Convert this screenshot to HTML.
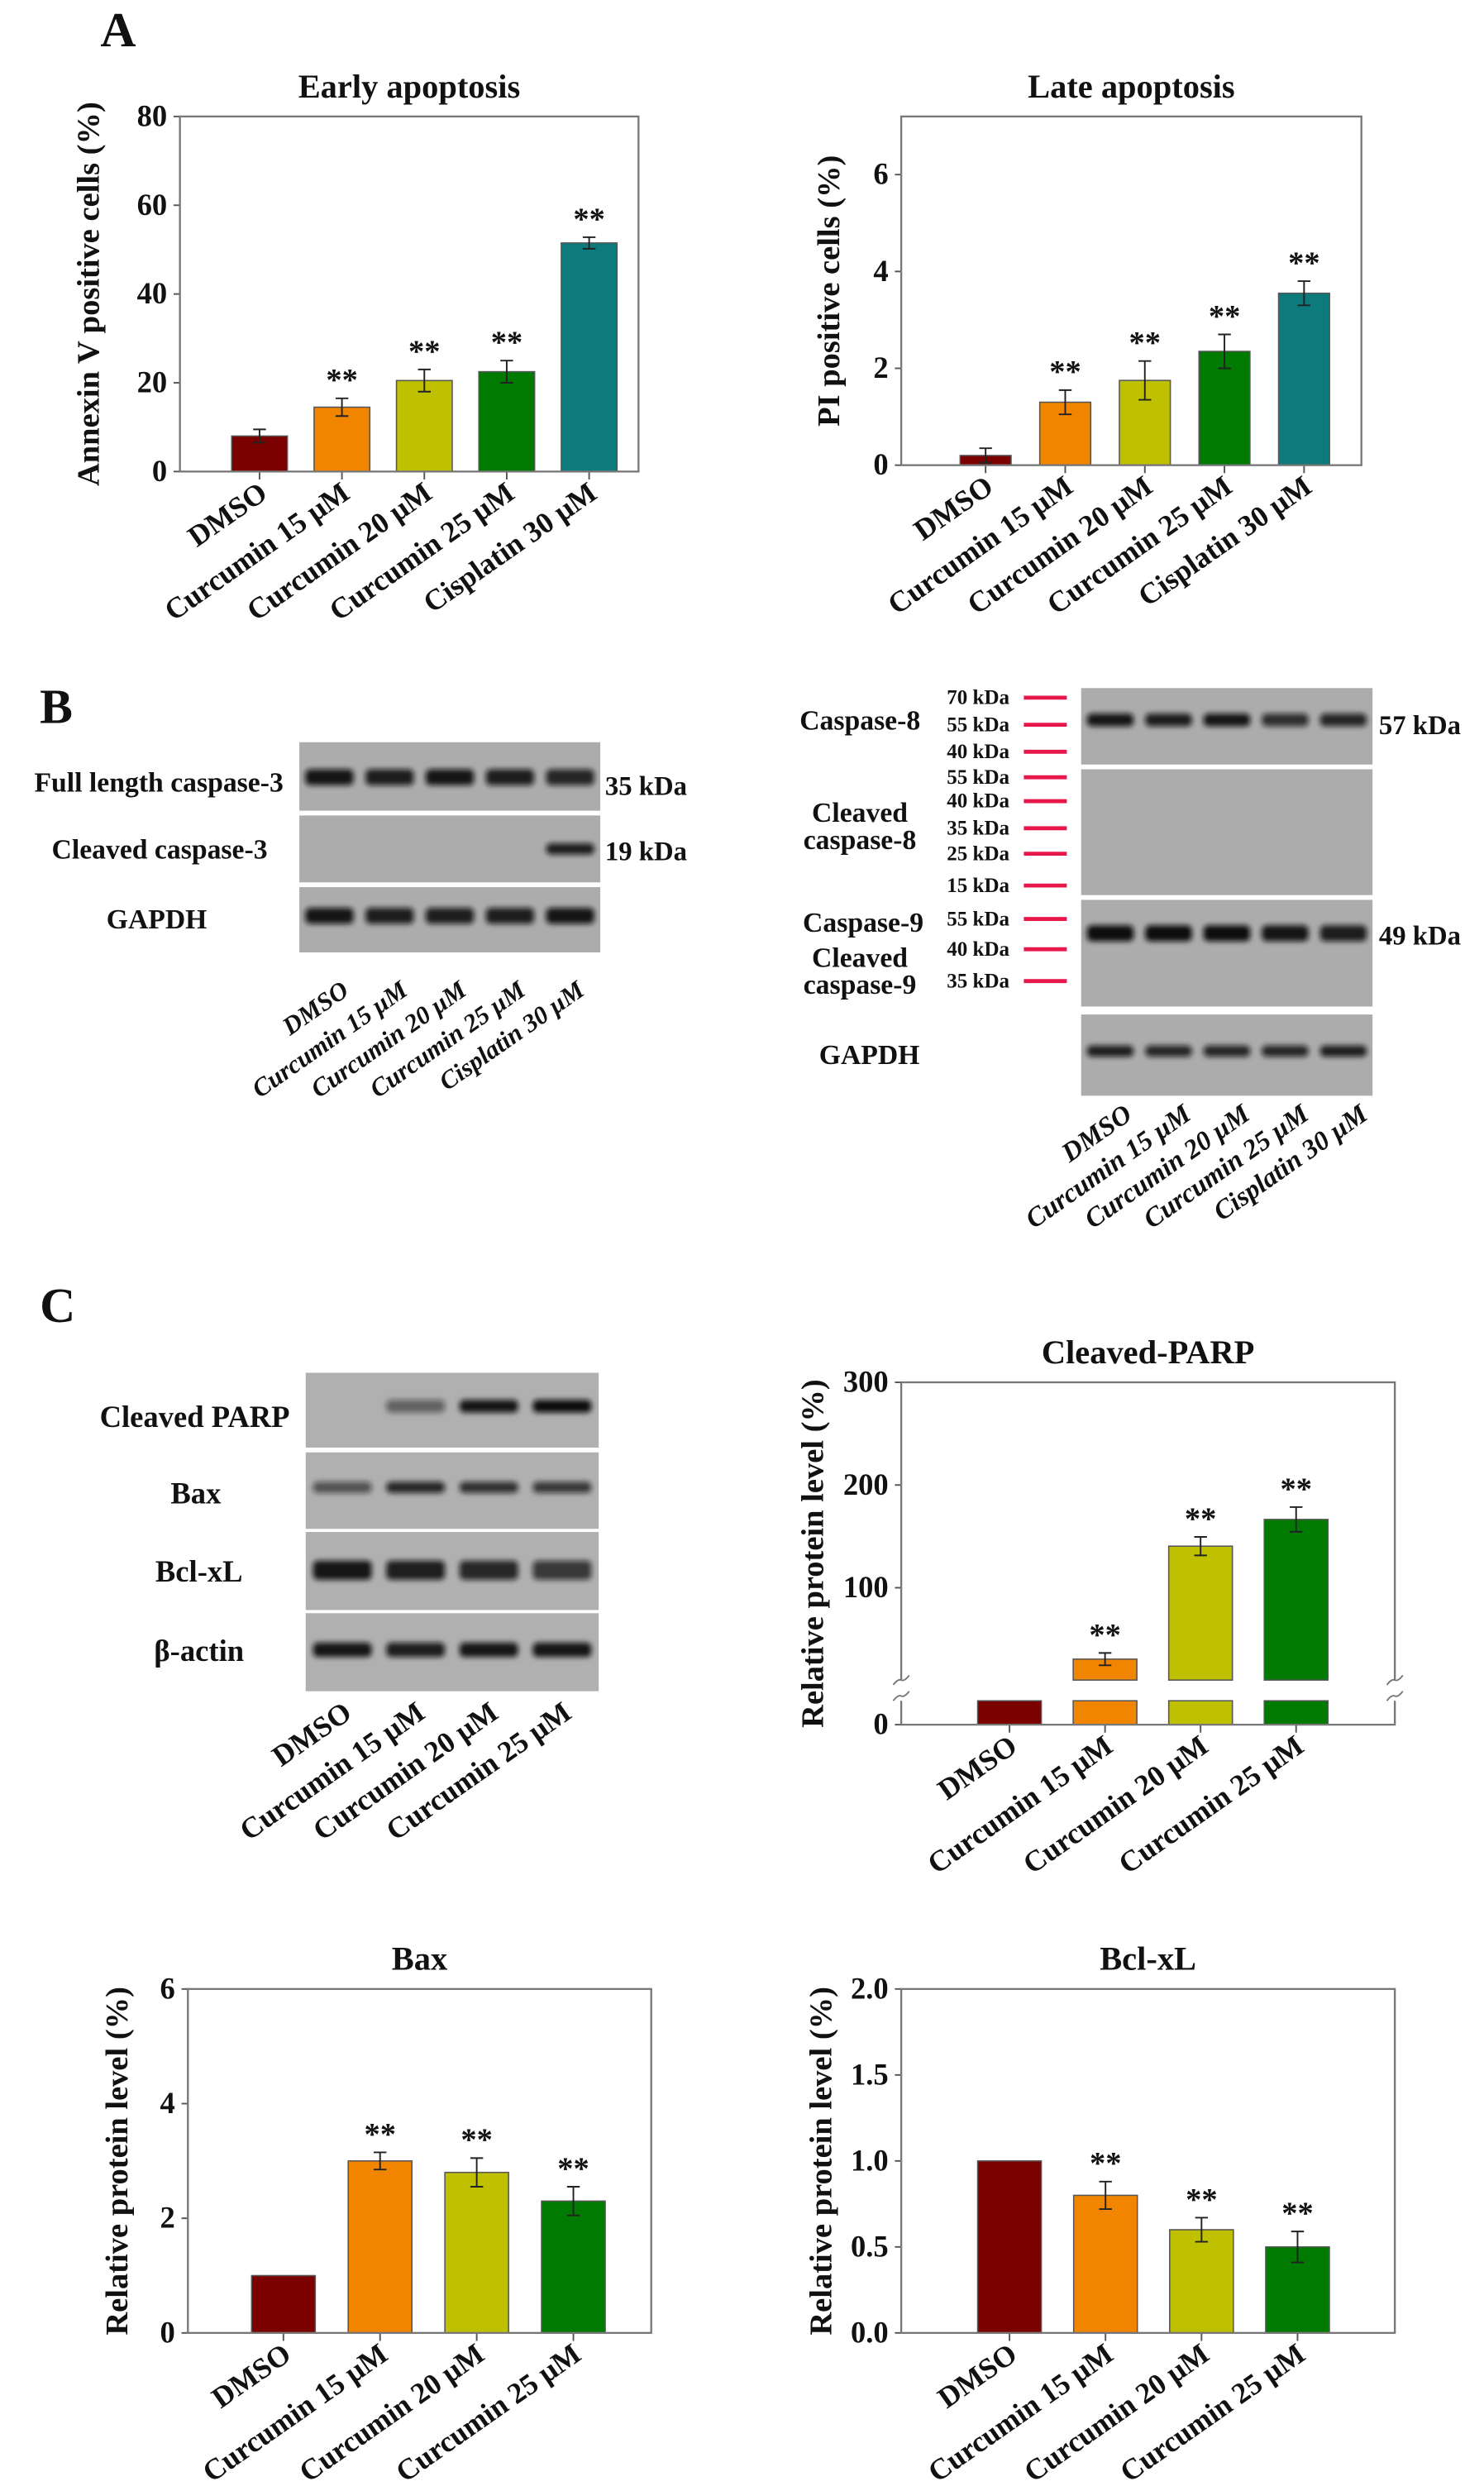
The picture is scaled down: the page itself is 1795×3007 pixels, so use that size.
<!DOCTYPE html>
<html><head><meta charset="utf-8"><style>
html,body{margin:0;padding:0;background:#fff}
svg{display:block}
text{font-family:"Liberation Serif",serif;font-weight:bold;fill:#111}
</style></head><body>
<svg id="fig" xmlns="http://www.w3.org/2000/svg" width="1795" height="3007" viewBox="0 0 932 1561">
<defs>
<filter id="blur" x="-20%" y="-100%" width="140%" height="300%"><feGaussianBlur stdDeviation="1.6"/></filter>
</defs>
<rect width="932" height="1561" fill="#fff"/>
<text x="63" y="29" font-size="31">A</text>
<text x="25" y="454" font-size="31">B</text>
<text x="25" y="830" font-size="31">C</text>
<g id="blots"></g>
<g id="charts"></g>
</svg>
<script>
// ---- chart data ----
const earlyCats = ["DMSO","Curcumin 15 μM","Curcumin 20 μM","Curcumin 25 μM","Cisplatin 30 μM"];
const earlyVals = [8, 14.5, 20.5, 22.5, 51.5];
const earlyErr = [1.5, 2, 2.5, 2.5, 1.3];
const earlySig = [false, true, true, true, true];
const earlyTicks = [0, 20, 40, 60, 80];

const lateCats = ["DMSO","Curcumin 15 μM","Curcumin 20 μM","Curcumin 25 μM","Cisplatin 30 μM"];
const lateVals = [0.2, 1.3, 1.75, 2.35, 3.55];
const lateErr = [0.15, 0.25, 0.4, 0.35, 0.25];
const lateSig = [false, true, true, true, true];
const lateTicks = [0, 2, 4, 6];

const parpCats = ["DMSO","Curcumin 15 μM","Curcumin 20 μM","Curcumin 25 μM"];
const parpVals = [1, 30, 140, 166];
const parpErr = [0, 6, 9, 12];
const parpSig = [false, true, true, true];
const parpTicks = [0, 100, 200, 300];

const baxCats = ["DMSO","Curcumin 15 μM","Curcumin 20 μM","Curcumin 25 μM"];
const baxVals = [1, 3.0, 2.8, 2.3];
const baxErr = [0, 0.15, 0.25, 0.25];
const baxSig = [false, true, true, true];
const baxTicks = [0, 2, 4, 6];

const bclCats = ["DMSO","Curcumin 15 μM","Curcumin 20 μM","Curcumin 25 μM"];
const bclVals = [1.0, 0.8, 0.6, 0.5];
const bclErr = [0, 0.08, 0.07, 0.09];
const bclSig = [false, true, true, true];
const bclTicks = ["0.0","0.5","1.0","1.5","2.0"];

const COLORS = ["#7b0000","#f28500","#bfc000","#007a00","#0d7b7b"];
const NS = "http://www.w3.org/2000/svg";
function mk(tag, attrs, parent){const e=document.createElementNS(NS,tag);for(const k in attrs)e.setAttribute(k,attrs[k]);parent.appendChild(e);return e;}
const charts = document.getElementById('charts');

function drawChart(c){
  const g = mk('g',{},charts);
  
  
  const y = v => c.bottom - (v - c.ymin) / (c.ymax - c.ymin) * (c.bottom - c.top);
  const xc = i => c.left + c.pad + i * c.step;
  const t = mk('text',{x:(c.left+c.right)/2,y:c.top-12,'font-size':21,'text-anchor':'middle'},g);
  t.textContent = c.title;
  
  
  const yl = mk('text',{x:0,y:0,'font-size':20,'text-anchor':'middle',transform:`translate(${c.ylx},${(c.top+c.bottom)/2}) rotate(-90)`},g);
  yl.textContent = c.ylabel;
  
  
  c.ticks.forEach(tv=>{
    const v = parseFloat(tv);
    const yy = c.tickY ? c.tickY(v) : y(v);
    mk('line',{x1:c.left-4,x2:c.left,y1:yy,y2:yy,stroke:'#555','stroke-width':1},g);
    const tl = mk('text',{x:c.left-8,y:yy+6,'font-size':19,'text-anchor':'end'},g);
    tl.textContent = tv;
    
    
  });
  c.vals.forEach((v,i)=>{
    const x = xc(i), w = c.bw;
    if(c.broken){
      const s = mk('rect',{x:x-w/2,y:c.bottom-15,width:w,height:15,fill:COLORS[i],stroke:'#555','stroke-width':0.8},g);
      
      
      if(v > c.breakVal){
        const b = mk('rect',{x:x-w/2,y:y(v),width:w,height:c.breakTop-y(v),fill:COLORS[i],stroke:'#555','stroke-width':0.8},g);
        
        
      }
    } else {
      const b = mk('rect',{x:x-w/2,y:y(v),width:w,height:c.bottom-y(v),fill:COLORS[i],stroke:'#555','stroke-width':0.8},g);
      
      
    }
    const e = c.err[i];
    if(e>0){
      const eg = mk('path',{d:`M${x},${y(v+e)}V${y(v-e)}M${x-4},${y(v+e)}H${x+4}M${x-4},${y(v-e)}H${x+4}`,stroke:'#222','stroke-width':1,fill:'none'},g);
      
      
    }
    if(c.sig[i]){
      const st = mk('text',{x:x,y:y(v+e)-5,'font-size':20,'text-anchor':'middle'},g);
      st.textContent = '**';
      
      
    }
    mk('line',{x1:x,x2:x,y1:c.bottom,y2:c.bottom+5,stroke:'#555','stroke-width':1},g);
    const xl = mk('text',{x:0,y:0,'font-size':18.5,'text-anchor':'end',transform:`translate(${x+6},${c.bottom+16}) rotate(-35)`},g);
    xl.textContent = c.cats[i];
    
    
  });
  if(c.broken){
    const b1=c.breakTop, b2=c.bottom-15;
    mk('path',{d:`M${c.left},${c.top}H${c.right}V${b1}M${c.right},${b2}V${c.bottom}H${c.left}V${b2}M${c.left},${b1}V${c.top}`,fill:'none',stroke:'#777','stroke-width':1.2},g);
    [c.left,c.right].forEach(ax=>{
      mk('path',{d:`M${ax-5},${b1+3}q3,-4 5,-3q2,1 5,-3M${ax-5},${b2}q3,-4 5,-3q2,1 5,-3`,fill:'none',stroke:'#777','stroke-width':1},g);
    });
  } else {
    const fr = mk('rect',{x:c.left,y:c.top,width:c.right-c.left,height:c.bottom-c.top,fill:'none',stroke:'#777','stroke-width':1.2},g);
    
    
  }
}

drawChart({name:'early-apoptosis-chart',title:'Early apoptosis',ylabel:'Annexin V positive cells (%)',ylx:62,left:113,right:401,top:73,bottom:296,ymin:0,ymax:80,pad:50,step:51.75,bw:35,cats:earlyCats,vals:earlyVals,err:earlyErr,sig:earlySig,ticks:earlyTicks});
drawChart({name:'late-apoptosis-chart',title:'Late apoptosis',ylabel:'PI positive cells (%)',ylx:527,left:566,right:855,top:73,bottom:292,ymin:0,ymax:7.2,pad:53,step:50,bw:32,cats:lateCats,vals:lateVals,err:lateErr,sig:lateSig,ticks:lateTicks});
drawChart({name:'cleaved-parp-chart',title:'Cleaved-PARP',ylabel:'Relative protein level (%)',ylx:517,left:566,right:876,top:868,bottom:1083,ymin:-33.8,ymax:299.5,pad:68,step:60,bw:40,cats:parpCats,vals:parpVals,err:parpErr,sig:parpSig,ticks:parpTicks,broken:true,breakVal:10,breakTop:1055,tickY:v=>v===0?1083:(1061.5-v*0.645)});
drawChart({name:'bax-chart',title:'Bax',ylabel:'Relative protein level (%)',ylx:80,left:118,right:409,top:1249,bottom:1465,ymin:0,ymax:6,pad:60,step:60.7,bw:40,cats:baxCats,vals:baxVals,err:baxErr,sig:baxSig,ticks:baxTicks});
drawChart({name:'bcl-xl-chart',title:'Bcl-xL',ylabel:'Relative protein level (%)',ylx:522,left:566,right:876,top:1249,bottom:1465,ymin:0,ymax:2,pad:68,step:60.3,bw:40,cats:bclCats,vals:bclVals,err:bclErr,sig:bclSig,ticks:bclTicks});

// ---- western blots ----
const blots = document.getElementById('blots');
function blotRow(x,y,w,h,lanes,bandY,intens,bh,name,bg){
  const g = mk('g',{},blots);
  
  
  mk('rect',{x:x,y:y,width:w,height:h,fill:bg||'#acacac'},g);
  const lw = w/lanes;
  intens.forEach((a,i)=>{
    if(a>0) mk('rect',{x:x+lw*i+lw*0.1,y:bandY-bh/2,width:lw*0.8,height:bh,rx:3,fill:'#111','fill-opacity':a,filter:'url(#blur)'},g);
  });
}
function label(x,y,txt,size,anchor,name){
  const t = mk('text',{x:x,y:y,'font-size':size,'text-anchor':anchor||'start'},blots);
  t.textContent = txt;
  
  
}
// B left
blotRow(188,466,189,43,5,488,[0.95,0.9,0.95,0.9,0.85],10,'caspase3-full-blot');
blotRow(188,512,189,42,5,533,[0,0,0,0,0.9],7,'caspase3-cleaved-blot');
blotRow(188,557,189,41,5,575,[0.95,0.9,0.9,0.9,0.95],10,'caspase3-gapdh-blot');
label(178,497,'Full length caspase-3',17.5,'end','label-full-caspase3');
label(168,539,'Cleaved caspase-3',17.5,'end','label-cleaved-caspase3');
label(130,583,'GAPDH',17.5,'end','label-gapdh-b1');
label(380,499,'35 kDa',17,'start','mw-35kda');
label(380,540,'19 kDa',17,'start','mw-19kda');
const bl = ["DMSO","Curcumin 15 μM","Curcumin 20 μM","Curcumin 25 μM","Cisplatin 30 μM"];
bl.forEach((c,i)=>{const t=mk('text',{x:0,y:0,'font-size':16,'font-style':'italic','text-anchor':'end',transform:`translate(${220+i*37},${624}) rotate(-35)`},blots);t.textContent=c;});
// B right
blotRow(679,432,183,48,5,452,[0.95,0.9,0.95,0.8,0.85],8,'caspase8-blot');
blotRow(679,483,183,79,5,500,[0,0,0,0,0],8,'cleaved-caspase8-blot');
blotRow(679,565,183,67,5,586,[1,1,1,0.95,0.9],10,'caspase9-blot');
blotRow(679,637,183,51,5,660,[0.9,0.85,0.85,0.85,0.9],7,'gapdh-b2-blot');
label(578,458,'Caspase-8',17.5,'end','label-caspase8');
label(540,516,'Cleaved',17.5,'middle','label-cleaved-caspase8-1');
label(540,533,'caspase-8',17.5,'middle','label-cleaved-caspase8-2');
label(580,585,'Caspase-9',17.5,'end','label-caspase9');
label(540,607,'Cleaved',17.5,'middle','label-cleaved-caspase9-1');
label(540,624,'caspase-9',17.5,'middle','label-cleaved-caspase9-2');
label(546,668,'GAPDH',17.5,'middle','label-gapdh-b2');
const mkY=[438,455,472,488,503,520,536,556,577,596,616];
const mkT=["70 kDa","55 kDa","40 kDa","55 kDa","40 kDa","35 kDa","25 kDa","15 kDa","55 kDa","40 kDa","35 kDa"];
mkY.forEach((yy,i)=>{label(634,yy+4,mkT[i],13,'end','marker-label');const l=mk('line',{x1:643,x2:670,y1:yy,y2:yy,stroke:'#e8174a','stroke-width':2.5},blots);});
label(866,461,'57 kDa',17,'start','mw-57kda');
label(866,593,'49 kDa',17,'start','mw-49kda');
bl.forEach((c,i)=>{const t=mk('text',{x:0,y:0,'font-size':17,'font-style':'italic','text-anchor':'end',transform:`translate(${712+i*37},${702}) rotate(-35)`},blots);t.textContent=c;});
// C blot
blotRow(192,862,184,47,4,883,[0,0.5,0.95,1],8,'cleaved-parp-blot','#b0b0b0');
blotRow(192,912,184,48,4,934,[0.6,0.85,0.8,0.75],7,'bax-blot','#b0b0b0');
blotRow(192,962,184,49,4,986,[0.95,0.9,0.85,0.75],12,'bcl-xl-blot','#b0b0b0');
blotRow(192,1013,184,49,4,1036,[0.95,0.9,0.95,0.95],9,'beta-actin-blot','#b0b0b0');
label(182,896,'Cleaved PARP',19,'end','label-cleaved-parp');
label(123,944,'Bax',19,'middle','label-bax');
label(125,993,'Bcl-xL',19,'middle','label-bcl-xl');
label(125,1043,'β-actin',19,'middle','label-beta-actin');
baxCats.forEach((c,i)=>{const t=mk('text',{x:0,y:0,'font-size':18.5,'text-anchor':'end',transform:`translate(${222+i*46},${1078}) rotate(-35)`},blots);t.textContent=c;});
</script>
</body></html>
